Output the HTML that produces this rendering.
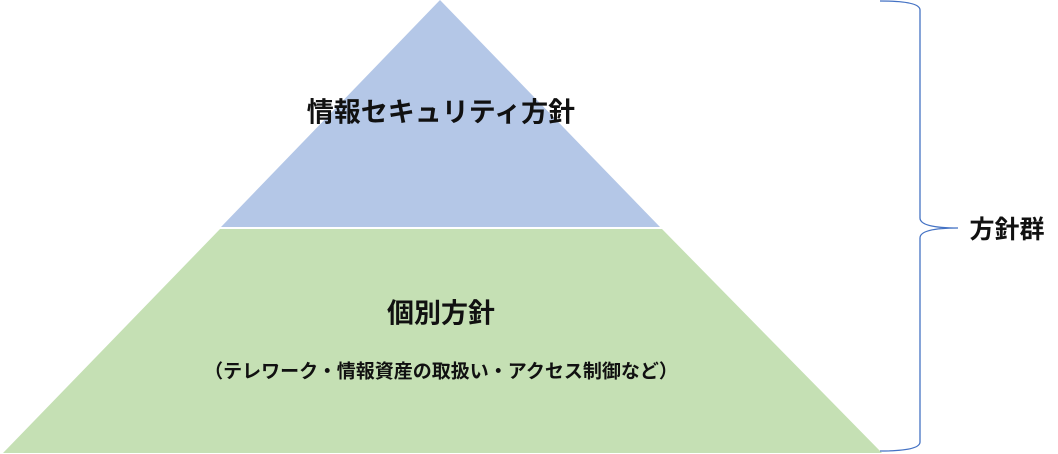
<!DOCTYPE html>
<html><head><meta charset="utf-8"><style>
body{margin:0;width:1058px;height:454px;background:#fff;overflow:hidden;position:relative;font-family:"Liberation Sans","Noto Sans CJK JP",sans-serif;}
.t{position:absolute;font-weight:bold;color:#111;white-space:nowrap;transform:translate(-50%,-50%);}
</style></head><body>
<svg width="1058" height="454" style="position:absolute;left:0;top:0">
<polygon points="440,0 660,227 221,227" fill="#b4c7e7"/>
<polygon points="220,229 662,229 882,453 3,453" fill="#c5e0b4"/>
<path d="M880,1 Q920,1 920,10 L920,218 Q920,228 958,228 Q920,228 920,238 L920,442 Q920,451 880,451" fill="none" stroke="#4472c4" stroke-width="1.3"/>
</svg>
<div class="t" style="left:441px;top:110px;font-size:27px">情報セキュリティ方針</div>
<div class="t" style="left:441px;top:311px;font-size:27px">個別方針</div>
<div class="t" style="left:441px;top:370px;font-size:19px">（テレワーク・情報資産の取扱い・アクセス制御など）</div>
<div class="t" style="left:1007px;top:228px;font-size:25px">方針群</div>
</body></html>
